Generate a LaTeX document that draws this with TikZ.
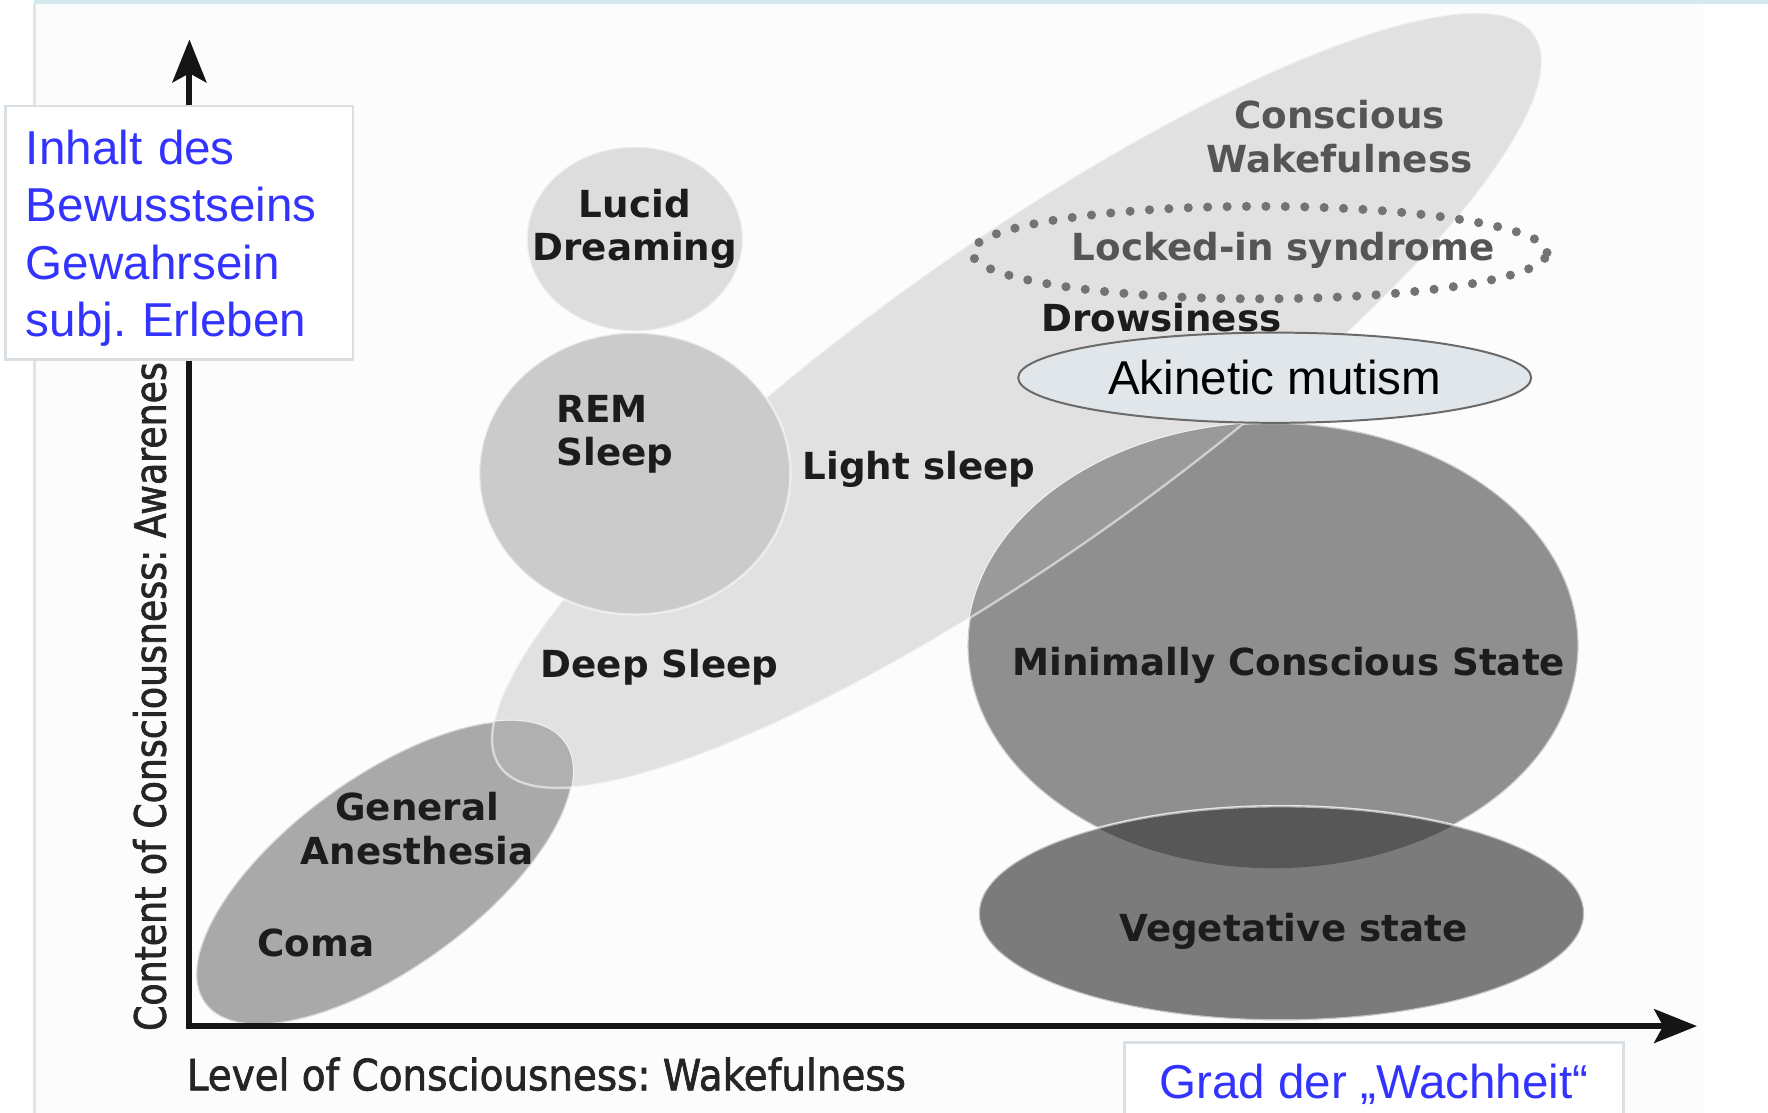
\documentclass[tikz,border=0pt]{standalone}
\usepackage{fontspec}
\setmainfont{DejaVu Sans}
\newfontfamily\arialfont{Liberation Sans}
\newfontfamily\xaxisfont[FakeStretch=0.90,FakeBold=1.6]{DejaVu Sans}
\newfontfamily\yaxisfont[FakeStretch=0.84,FakeBold=1.6]{DejaVu Sans}
\usetikzlibrary{arrows.meta,shapes.geometric}

\definecolor{pagebg}{HTML}{FCFCFC}
\definecolor{topbar}{HTML}{D3E9ED}
\definecolor{frameline}{HTML}{DFE4E6}
\definecolor{bandgrey}{HTML}{E1E1E1}
\definecolor{lucidgrey}{HTML}{DDDDDD}
\definecolor{remgrey}{HTML}{CBCBCB}
\definecolor{anesgrey}{HTML}{A9A9A9}
\definecolor{anesband}{HTML}{B0B0B0}
\definecolor{mcsgrey}{HTML}{8F8F8F}
\definecolor{mcsband}{HTML}{9A9A9A}
\definecolor{vsgrey}{HTML}{7B7B7B}
\definecolor{vsmcs}{HTML}{575757}
\definecolor{akinfill}{HTML}{E0E6EA}
\definecolor{akinline}{HTML}{6A6A6A}
\definecolor{dotgrey}{HTML}{737373}
\definecolor{labelgrey}{HTML}{555555}
\definecolor{labelblack}{HTML}{1C1C1C}
\definecolor{axisblack}{HTML}{151515}
\definecolor{axisgrey}{HTML}{252525}
\definecolor{boxline}{HTML}{D9DFE3}
\definecolor{textblue}{HTML}{3333FF}

\frenchspacing
\begin{document}
\begin{tikzpicture}[
	region/.style={draw=white, draw opacity=.55, line width=.6pt},
	lab/.style={font=\fontsize{9.4}{11}\selectfont\bfseries, text=labelblack, align=center, inner sep=0pt},
	axislab/.style={text=axisgrey, inner sep=0pt},
	bluebox/.style={draw=boxline, fill=white, line width=.7pt, text=textblue, font=\arialfont\fontsize{12}{14.5}\selectfont},
	axis/.style={line width=1.5pt, draw=axisblack, {Stealth[length=.38cm, width=.3cm, inset=.08cm]}-{Stealth[length=.38cm, width=.3cm, inset=.08cm]}}
]
	\useasboundingbox (0,0) rectangle (15.68,9.87);
	\fill[pagebg] (0.31,0) rectangle (15.1,9.83);
	\fill[topbar] (0.30,9.83) rectangle (15.68,9.87);
	\draw[frameline, line width=.6pt] (0.305,0) -- (0.305,9.83);
	
	% sleep band
	\filldraw[region, fill=bandgrey] (9.02,6.32) ellipse [x radius=5.62, y radius=1.38, rotate=35.3];
	
	% anesthesia / coma
	\filldraw[region, fill=anesgrey] (3.41,2.13) ellipse [x radius=1.97, y radius=.85, rotate=36];
	\begin{scope}
		\clip (3.41,2.13) ellipse [x radius=1.97, y radius=.85, rotate=36];
		\filldraw[region, fill=anesband] (9.02,6.32) ellipse [x radius=5.62, y radius=1.38, rotate=35.3];
	\end{scope}
	
	% dreaming and REM
	\filldraw[region, fill=lucidgrey] (5.63,7.75) ellipse [x radius=.96, y radius=.82];
	\filldraw[region, fill=remgrey] (5.63,5.67) ellipse [x radius=1.38, y radius=1.25];
	
	% minimally conscious / vegetative
	\filldraw[region, fill=mcsgrey] (11.29,4.145) ellipse [x radius=2.71, y radius=1.975];
	\begin{scope}
		\clip (11.29,4.145) ellipse [x radius=2.71, y radius=1.975];
		\filldraw[region, fill=mcsband] (9.02,6.32) ellipse [x radius=5.62, y radius=1.38, rotate=35.3];
	\end{scope}
	\filldraw[region, fill=vsgrey] (11.365,1.77) ellipse [x radius=2.685, y radius=.95];
	\begin{scope}
		\clip (11.29,4.145) ellipse [x radius=2.71, y radius=1.975];
		\filldraw[region, fill=vsmcs] (11.365,1.77) ellipse [x radius=2.685, y radius=.95];
	\end{scope}
	
	% locked-in
	\draw[dotgrey, line width=2.3pt, line cap=round, dash pattern=on 0pt off 4.9pt] (11.17,7.63) ellipse [x radius=2.55, y radius=.41];
	
	\node[ellipse, draw=akinline, fill=akinfill, line width=.5pt, minimum width=4.55cm, minimum height=.8cm, inner sep=0pt, font=\arialfont\fontsize{12}{14}\selectfont] (akin) at (11.305,6.52) {Akinetic mutism};
	
	\node[lab, text=labelgrey] (wake) at (11.88,8.66) {Conscious\\Wakefulness};
	\node[lab, text=labelgrey] (locked) at (11.38,7.65) {Locked-in syndrome};
	\node[lab] (drowsy) at (10.30,7.05) {Drowsiness};
	\node[lab] (lucid) at (5.63,7.84) {Lucid\\Dreaming};
	\node[lab, align=left] (rem) at (5.455,6.02) {REM\\Sleep};
	\node[lab] (light) at (8.15,5.71) {Light sleep};
	\node[lab] (deep) at (5.85,3.95) {Deep Sleep};
	\node[lab] (anes) at (3.70,2.52) {General\\Anesthesia};
	\node[lab] (coma) at (2.80,1.51) {Coma};
	\node[lab] (mcs) at (11.43,3.97) {Minimally Conscious State};
	\node[lab] (vs) at (11.47,1.61) {Vegetative state};
	
	% axes
	\coordinate (O) at (1.68,0.77);
	\coordinate (ytop) at (1.68,9.52);
	\coordinate (xend) at (15.05,0.77);
	\draw[axis] (ytop) -- (O) -- (xend);
	
	\node[axislab, font=\yaxisfont\fontsize{10.9}{13}\selectfont, rotate=90, anchor=base west] (ylab) at (1.47,0.72) {Content of Consciousness: Awareness};
	\node[axislab, font=\xaxisfont\fontsize{10.9}{13}\selectfont, anchor=base west] (xlab) at (1.65,0.20) {Level of Consciousness: Wakefulness};
	
	% german notes
	\node[bluebox, minimum width=3.08cm, minimum height=2.23cm, text width=2.72cm, align=left] (inhalt) at (1.59,7.805) {\rule{0pt}{.40cm}Inhalt des\\Bewusstseins\\Gewahrsein\\subj. Erleben};
	\node[bluebox, anchor=north, minimum width=4.43cm, inner ysep=0pt, text height=.5cm, text depth=.8cm] (grad) at (12.185,0.64) {Grad der „Wachheit“};
\end{tikzpicture}
\end{document}
